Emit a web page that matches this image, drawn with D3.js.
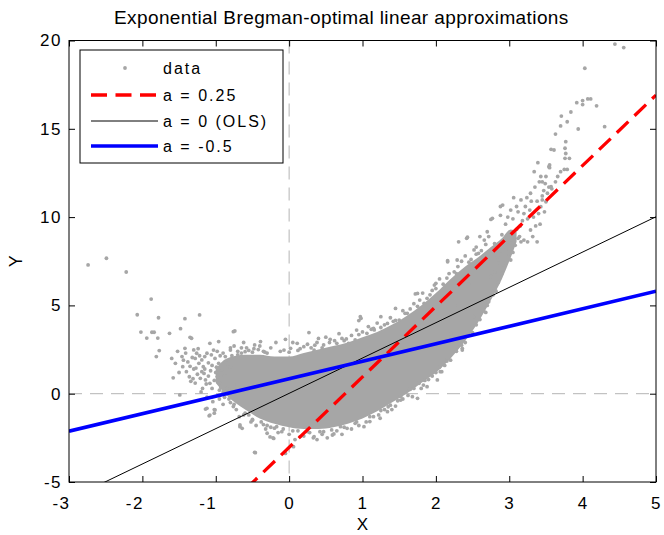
<!DOCTYPE html>
<html>
<head>
<meta charset="utf-8">
<script src="https://cdn.jsdelivr.net/npm/d3@7"></script>
<style>
    body { margin: 0; background: #fff; }
    text { font-family: "Liberation Sans", Arial, sans-serif; fill: #000; }
</style>
</head>
<body>
<svg></svg>
<script>
// Axis ticks
let xTicks = [-3, -2, -1, 0, 1, 2, 3, 4, 5]
let yTicks = [-5, 0, 5, 10, 15, 20]

// Fitted lines  y = slope * x + intercept
let fitLabels = ['a = 0.25', 'a = 0 (OLS)', 'a = -0.5']
let fitSlopes = [3.99, 2.0, 0.99]
let fitIntercepts = [-3.04, 0.02, 0.85]

// Dense part of the data cloud (lower / upper edge per x)
let coreX    = [-1.0, -0.85, -0.6, -0.4, -0.2, 0, 0.2, 0.4, 0.6, 0.8, 1.0, 1.2, 1.4, 1.6, 1.8, 2.0, 2.2, 2.4, 2.6, 2.75, 2.9, 3.02, 3.1]
let coreLow  = [0.6, -0.1, -0.9, -1.4, -1.7, -1.9, -2.0, -2.0, -1.9, -1.7, -1.4, -1.0, -0.5, 0.0, 0.6, 1.2, 2.0, 3.0, 4.2, 5.3, 6.5, 7.7, 8.6]
let coreHigh = [1.4, 2.0, 2.2, 2.2, 2.1, 2.1, 2.3, 2.5, 2.7, 2.9, 3.2, 3.5, 3.9, 4.4, 5.0, 5.7, 6.5, 7.2, 7.8, 8.3, 8.8, 9.3, 9.2]

// Scattered data points [x, y]
let dataPoints = [
    [-2.74,7.29],[-2.49,7.67],[-2.22,6.89],[-1.88,5.36],[-2.07,4.47],[-1.78,4.30],[-1.42,4.25],[-1.22,4.46],
    [-2.02,3.49],[-1.87,3.48],[-1.84,3.48],[-1.94,3.15],[-1.79,3.15],[-1.63,3.42],[-1.77,2.44],[-1.81,2.10],
    [-1.48,3.68],[-0.74,3.55],[-1.49,-0.07],[-0.47,-3.32],[-1.14,-0.87],[-1.02,-0.90],[-1.02,-1.10],[-1.09,-1.25],
    [-0.26,-2.45],[-0.22,-2.50],[-0.67,-1.87],[-1.55,1.72],[-1.46,2.10],[-1.44,1.90],[-1.45,1.53],[-1.35,3.19],
    [-1.33,3.14],[-1.42,2.57],[-1.36,0.96],[-1.30,2.48],[-1.26,2.29],[-1.28,2.00],[-1.23,1.72],[-1.19,1.91],
    [-1.17,1.53],[-1.19,1.25],[-1.21,0.87],[-1.14,0.78],[-1.08,0.59],[-1.12,2.29],[-1.08,2.85],[-1.03,2.47],
    [-0.96,2.95],[-1.01,2.00],[-0.96,1.72],[-0.92,1.34],[-0.98,0.97],[-0.87,2.10],[-0.80,2.47],[-0.80,1.53],
    [-0.76,3.51],[-0.60,2.38],[-0.39,2.95],[-0.47,2.76],[-1.12,-0.83],[-1.08,-1.21],[-1.01,-0.92],[-0.64,-1.96],
    [-0.67,-1.77],[-0.30,-2.24],[-0.21,-2.53],[-0.46,-3.34],[-0.85,0.30],[-0.78,0.21],[-0.71,0.49],[-0.76,-0.73],
    [-0.17,-1.87],[-0.10,-2.15],[-1.25,1.10],[-1.15,1.40],[-1.10,1.00],[-1.05,1.60],[-1.00,1.20],[-0.95,0.60],
    [-0.90,0.10],[-0.88,1.00],[-0.85,1.70],[-0.82,-0.30],[-0.75,2.70],[-0.70,2.20],[-0.65,2.60],[-0.58,2.60],
    [-0.55,-1.20],[-0.50,-1.50],[-0.42,2.50],[-0.35,2.40],[-0.30,-1.80],[-1.30,1.40],[-1.38,1.80],[-1.28,0.60],
    [-1.18,0.30],[-1.05,0.30],[-0.95,-0.30],[-0.90,-0.60],[-1.32,2.05],[-1.24,2.55],[-1.15,2.10],[-1.10,1.75],
    [-1.40,1.25],[-1.34,0.70],[-1.20,0.10],[-1.12,-0.20],[-1.04,-0.45],[-0.98,2.40],
    [-1.27,1.45],[-1.22,2.15],[-1.16,1.15],[-1.13,0.55],[-1.07,1.30],[-1.06,2.20],[-1.02,0.75],[-0.99,1.50],
    [-0.94,2.15],[-0.93,0.35],[-1.35,1.55],[-1.31,0.85],[-1.41,2.30],[-1.50,1.20],[-1.52,2.40],[-1.60,2.00],[-1.58,0.90],
    [-0.05,3.08],[0.11,2.85],[0.27,3.46],[0.40,3.13],[0.56,3.08],[0.72,3.13],[0.95,4.14],[0.98,4.27],
    [1.25,4.36],[1.45,4.83],[1.72,5.65],[1.98,6.15],[-0.07,2.47],[0.02,2.57],[0.20,2.66],[0.34,2.47],
    [0.47,2.76],[0.81,2.85],[0.90,3.04],[1.06,3.42],[1.16,3.61],[1.34,3.98],[1.50,4.17],[1.61,4.55],
    [1.84,5.12],[1.88,5.40],[1.10,-1.58],[1.24,-1.39],[1.45,-0.70],[1.59,0.21],[1.77,0.59],[0.61,-2.28],
    [0.70,-1.87],[0.34,-2.43],[0.06,-3.00],[-0.05,-3.38],[0.15,-2.43],[0.47,-2.15],[0.79,-1.96],[0.90,-1.68],
    [1.02,-1.87],[1.34,-1.02],[1.52,-0.36],[1.68,-0.17],[1.88,0.40],[2.02,0.78],[0.33,-2.50],[0.59,-2.34],
    [1.35,-0.74],[1.75,-0.26],[2.08,1.25],[2.36,2.57],[2.42,8.80],[2.31,8.60],[2.16,7.47],[1.75,5.68],[0.97,4.36],
    [-0.90,2.30],[-0.80,2.60],[-0.70,2.40],[-0.62,2.90],[-0.55,2.45],[-0.48,2.55],[-0.40,2.70],[-0.33,2.35],
    [-0.25,2.60],[-0.18,2.90],[-0.12,2.40],[0.05,2.90],[0.12,2.45],[0.25,2.80],[0.30,2.60],[0.38,2.90],
    [0.50,3.20],[0.55,2.90],[0.62,3.00],[0.68,3.40],[0.75,3.00],[0.85,3.30],[0.92,3.60],[1.00,3.50],
    [1.08,3.80],[1.15,3.70],[1.20,4.00],[1.30,3.90],[1.38,4.30],[1.42,4.10],[1.55,4.70],[1.65,4.80],
    [1.70,5.10],[1.78,5.30],[1.82,5.70],[1.92,5.60],[2.00,5.95],[2.05,6.50],[2.10,6.20],[2.18,6.80],
    [2.25,6.90],[2.30,7.20],[2.35,7.50],[2.40,7.80],[2.48,7.60],[2.55,8.30],[2.62,8.10],[2.68,8.45],
    [2.72,8.90],[2.80,8.50],
    [0.00,2.35],[0.15,2.55],[0.35,2.75],[0.45,2.60],[0.65,2.85],[0.78,3.10],[0.95,3.35],[1.12,3.65],
    [1.25,3.75],[1.45,4.15],[1.58,4.55],[1.75,4.95],[1.95,5.85],[2.15,6.55],[2.28,6.80],[2.45,7.45],
    [2.58,7.95],[-0.30,2.30],[-0.50,2.35],[-0.65,2.30],[-0.78,2.15],
    [-0.95,0.20],[-0.88,-0.20],[-0.80,-0.50],[-0.72,-0.90],[-0.68,-1.30],[-0.60,-1.10],[-0.52,-1.60],[-0.45,-1.80],
    [-0.38,-1.60],[-0.32,-2.00],[-0.25,-1.90],[-0.15,-2.20],[-0.08,-2.00],[0.00,-2.30],[0.08,-2.60],[0.12,-2.10],
    [0.20,-2.40],[0.28,-2.20],[0.38,-2.60],[0.45,-2.30],[0.52,-2.50],[0.65,-2.10],[0.72,-2.30],[0.85,-2.00],
    [0.95,-1.80],[1.05,-1.60],[1.15,-1.30],[1.22,-1.20],[1.30,-0.90],[1.40,-0.90],[1.48,-0.40],[1.55,-0.30],
    [1.62,-0.10],[1.70,0.30],[1.80,0.30],[1.90,0.80],[1.95,1.00],[2.05,1.50],[2.12,1.60],[2.20,1.90],
    [2.28,2.40],[2.32,2.80],[2.40,2.90],[2.45,3.30],[2.55,3.90],[2.60,4.20],[2.65,4.70],[2.72,5.20],
    [2.78,5.60],[2.85,6.30],[2.90,6.80],[2.95,7.40],[3.05,8.00],[3.12,8.80],
    [-0.85,0.00],[-0.75,-0.60],[-0.62,-1.20],[-0.50,-1.45],[-0.35,-1.75],[-0.20,-1.95],[0.05,-2.10],[0.25,-2.15],
    [0.42,-2.15],[0.58,-2.05],[0.75,-1.90],[0.92,-1.60],[1.10,-1.30],[1.25,-0.95],[1.38,-0.65],[1.52,-0.15],
    [1.65,0.25],[1.85,0.75],[2.00,1.20],[2.15,1.85],[2.35,2.75],[2.50,3.45],[2.68,4.60],[2.82,5.80],
    [3.39,13.08],[3.55,12.95],[3.34,12.57],[3.41,12.00],[3.29,11.35],[3.16,10.97],[3.06,11.10],[2.88,10.60],
    [2.75,9.87],[2.70,9.17],[2.43,8.86],[2.66,8.70],[2.52,8.14],[2.29,7.57],[2.16,7.53],[2.00,6.25],
    [3.38,8.60],[3.29,9.27],[3.20,8.70],[3.02,7.57],[2.95,8.14],[2.84,7.76],[2.75,6.63],[2.66,5.31],
    [2.52,4.36],[2.36,2.47],[2.11,1.91],[2.06,1.25],[1.84,0.78],[1.83,0.49],[3.43,10.59],[3.57,11.72],[3.63,12.00],
    [2.90,9.00],[2.95,9.60],[3.00,8.60],[3.05,9.90],[3.10,9.30],[3.12,10.30],[3.18,9.80],[3.22,10.60],
    [3.25,9.90],[3.30,10.90],[3.35,11.70],[3.40,10.20],[3.45,11.20],[3.50,12.30],[2.88,8.10],[2.92,7.10],
    [3.00,7.90],[3.08,8.40],[2.80,6.90],[2.85,7.40],[2.91,10.68],[2.88,10.10],[2.77,9.93],[3.25,8.60],
    [3.16,8.60],[2.60,8.90],[2.55,7.90],[2.45,6.20],[2.30,5.00],[2.20,3.40],[2.50,3.80],[2.70,5.00],[2.80,5.90],
    [3.15,9.50],[3.20,10.20],[3.28,10.40],[3.33,10.00],[3.36,9.50],[3.42,9.60],[3.48,10.30],[3.38,10.90],
    [3.10,10.60],[3.02,10.40],[2.98,10.00],[3.24,11.10],[3.14,8.90],[3.32,8.90],
    [4.44,19.80],[4.56,19.60],[4.03,18.43],[4.07,16.69],[4.11,16.69],[4.00,16.60],[3.92,16.48],[4.00,16.37],
    [4.19,16.30],[3.84,15.95],[3.71,15.72],[3.79,15.40],[3.70,15.16],[4.30,15.12],[3.94,14.99],[3.63,14.70],
    [3.77,14.27],[3.57,13.84],[3.61,13.80],[3.76,13.90],[3.77,13.60],[3.82,13.33],[3.76,13.33],[3.54,12.85],
    [3.55,12.80],[3.70,12.57],[3.75,12.70],[3.79,12.70],[3.66,12.30],[3.43,12.30],[3.45,12.00],[3.49,11.90],
    [3.54,11.70],[3.58,11.60],[3.47,11.50],[3.52,11.35],[3.45,10.97],[3.50,10.87]
]

// Figure dimensions
let width = 664
let height = 535
let plot = { left: 69, right: 656, top: 40.5, bottom: 482 }
let gray = '#a6a6a6'

let scale = {
    x: d3.scaleLinear().domain([-3, 5]).range([plot.left, plot.right]),
    y: d3.scaleLinear().domain([-5, 20]).range([plot.bottom, plot.top])
}

let svg = d3.select('svg')
    .attr('width', width)
    .attr('height', height)

svg.append('defs').append('clipPath')
    .attr('id', 'plot-clip')
    .append('rect')
    .attr('x', plot.left)
    .attr('y', plot.top)
    .attr('width', plot.right - plot.left)
    .attr('height', plot.bottom - plot.top)

let inner = svg.append('g').attr('clip-path', 'url(#plot-clip)')

// Zero lines (under the data)
inner.append('line')
    .attr('x1', scale.x(0)).attr('x2', scale.x(0))
    .attr('y1', plot.top).attr('y2', plot.bottom)
    .attr('stroke', '#b4b4b4').attr('stroke-dasharray', '13,8')
inner.append('line')
    .attr('x1', plot.left).attr('x2', plot.right)
    .attr('y1', scale.y(0)).attr('y2', scale.y(0))
    .attr('stroke', '#b4b4b4').attr('stroke-dasharray', '13,8')

// Dense core of the cloud
let core = coreX.map((x, i) => ({ x: x, lo: coreLow[i], hi: coreHigh[i] }))
let area = d3.area()
    .x(d => scale.x(d.x))
    .y0(d => scale.y(d.lo))
    .y1(d => scale.y(d.hi))
    .curve(d3.curveMonotoneX)
inner.append('path')
    .datum(core)
    .attr('d', area)
    .attr('fill', gray)

// Scatter
inner.selectAll('circle.pt')
    .data(dataPoints)
    .enter()
    .append('circle')
    .attr('class', 'pt')
    .attr('cx', d => scale.x(d[0]))
    .attr('cy', d => scale.y(d[1]))
    .attr('r', 1.9)
    .attr('fill', gray)

// Fitted lines
let lineStyles = [
    { color: '#ff0000', width: 3.3, dash: '16,8.5' },
    { color: '#000000', width: 1, dash: null },
    { color: '#0000ff', width: 3.6, dash: null }
]
let line = d3.line().x(d => scale.x(d[0])).y(d => scale.y(d[1]))
for (let i = 0; i < fitLabels.length; i++) {
    let ends = [-3, 5].map(x => [x, fitSlopes[i] * x + fitIntercepts[i]])
    inner.append('path')
        .datum(ends)
        .attr('d', line)
        .attr('fill', 'none')
        .attr('stroke', lineStyles[i].color)
        .attr('stroke-width', lineStyles[i].width)
        .attr('stroke-dasharray', lineStyles[i].dash)
}

// Axes - ticks point inward on all four sides
let fmt = d => String(d)
let axis = {
    bottom: d3.axisBottom(scale.x).tickValues(xTicks).tickFormat(fmt).tickSizeInner(-6).tickSizeOuter(0).tickPadding(15),
    top: d3.axisTop(scale.x).tickValues(xTicks).tickSizeInner(-6).tickSizeOuter(0).tickFormat(''),
    left: d3.axisLeft(scale.y).tickValues(yTicks).tickFormat(fmt).tickSizeInner(-6).tickSizeOuter(0).tickPadding(7),
    right: d3.axisRight(scale.y).tickValues(yTicks).tickSizeInner(-6).tickSizeOuter(0).tickFormat('')
}
let xAxisG = svg.append('g').attr('transform', `translate(0,${plot.bottom})`).call(axis.bottom)
svg.append('g').attr('transform', `translate(0,${plot.top})`).call(axis.top)
svg.append('g').attr('transform', `translate(${plot.left},0)`).call(axis.left)
svg.append('g').attr('transform', `translate(${plot.right},0)`).call(axis.right)

svg.selectAll('.domain').remove()
svg.selectAll('.tick line').attr('stroke', '#000')
svg.selectAll('.tick text')
    .attr('font-size', 17)
    .attr('font-family', '"Liberation Sans", Arial, sans-serif')
    .attr('letter-spacing', 1.5)
// negative x labels sit a little left of their tick, as in the original
xAxisG.selectAll('.tick text')
    .attr('dx', d => d < 0 ? -8 : 0)

svg.append('rect')
    .attr('x', plot.left).attr('y', plot.top)
    .attr('width', plot.right - plot.left)
    .attr('height', plot.bottom - plot.top)
    .attr('fill', 'none')
    .attr('stroke', '#000')

// Title and labels
svg.append('text')
    .attr('x', 114)
    .attr('y', 24)
    .attr('font-size', 19)
    .attr('letter-spacing', 0.4)
    .text('Exponential Bregman-optimal linear approximations')

svg.append('text')
    .attr('x', (plot.left + plot.right) / 2)
    .attr('y', 530)
    .attr('text-anchor', 'middle')
    .attr('font-size', 17)
    .text('X')

svg.append('text')
    .attr('transform', `translate(22,${(plot.top + plot.bottom) / 2}) rotate(-90)`)
    .attr('text-anchor', 'middle')
    .attr('font-size', 18)
    .text('Y')

// Legend
let legend = svg.append('g')
legend.append('rect')
    .attr('x', 80).attr('y', 50)
    .attr('width', 203).attr('height', 113)
    .attr('fill', '#fff')
    .attr('stroke', '#000')

let legendRows = [68, 95, 121, 146]
legend.append('circle')
    .attr('cx', 125).attr('cy', legendRows[0])
    .attr('r', 1.9).attr('fill', gray)
legend.append('text')
    .attr('x', 163).attr('y', legendRows[0])
    .attr('dy', '0.35em')
    .attr('font-size', 16)
    .attr('letter-spacing', 2)
    .text('data')
for (let i = 0; i < fitLabels.length; i++) {
    legend.append('line')
        .attr('x1', 91).attr('x2', 158)
        .attr('y1', legendRows[i + 1]).attr('y2', legendRows[i + 1])
        .attr('stroke', lineStyles[i].color)
        .attr('stroke-width', lineStyles[i].width)
        .attr('stroke-dasharray', lineStyles[i].dash)
    legend.append('text')
        .attr('x', 163).attr('y', legendRows[i + 1])
        .attr('dy', '0.35em')
        .attr('font-size', 16)
        .attr('letter-spacing', 2)
        .text(fitLabels[i])
}
</script>
</body>
</html>
